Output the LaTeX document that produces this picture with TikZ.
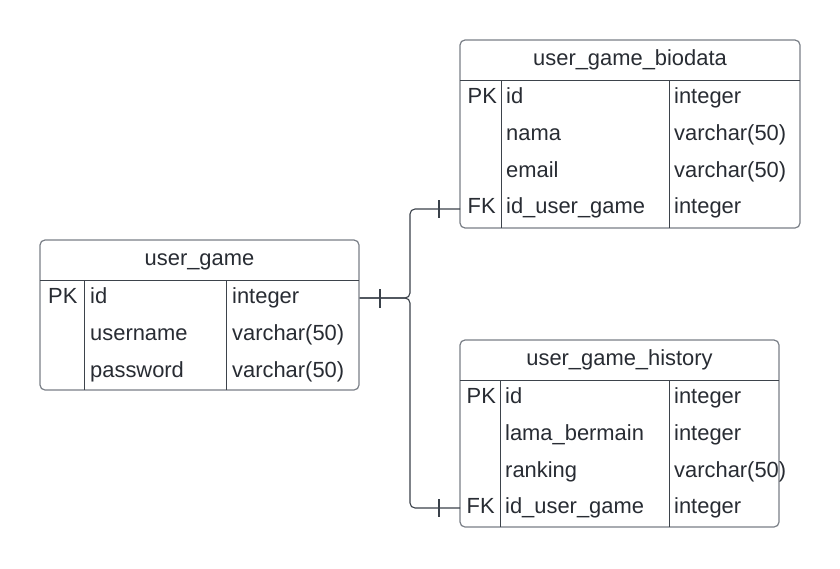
\documentclass[tikz,border=0pt]{standalone}
\usepackage{fontspec}
\setmainfont{Liberation Sans}
\definecolor{txt}{HTML}{282C33}
\definecolor{outer}{HTML}{7A7F87}
\definecolor{inner}{HTML}{3D434B}
\definecolor{conn}{HTML}{3A414A}
\begin{document}
\begin{tikzpicture}[x=1pt,y=-1pt,
  tbl/.style={draw=outer,line width=1.2pt,rounded corners=5pt,fill=white},
  div/.style={draw=inner,line width=1pt},
  cell/.style={anchor=base west,inner sep=0pt,text=txt,font=\fontsize{21.9}{26}\selectfont},
  head/.style={anchor=base,inner sep=0pt,text=txt,font=\fontsize{21.9}{26}\selectfont},
  link/.style={draw=conn,line width=1.1pt,rounded corners=5pt},
  tick/.style={draw=conn,line width=1.1pt}]
\useasboundingbox (0,0) rectangle (840,568);

% ---------- user_game ----------
\path[tbl] (40,240) rectangle (359,390);
\draw[div] (40,280) -- (359,280);
\draw[div] (84.5,280) -- (84.5,390);
\draw[div] (226.5,280) -- (226.5,390);
\node[head] (ugh) at (199.5,265) {user\_game};
\node[cell] (ug1a) at (48,303) {PK};
\node[cell] (ug1b) at (90,303) {id};
\node[cell] (ug1c) at (232,303) {integer};
\node[cell] (ug2b) at (90,340) {username};
\node[cell] (ug2c) at (232,340) {varchar(50)};
\node[cell] (ug3b) at (90,377) {password};
\node[cell] (ug3c) at (232,377) {varchar(50)};

% ---------- user_game_biodata ----------
\path[tbl] (460,40) rectangle (800,228);
\draw[div] (460,80) -- (800,80);
\draw[div] (501,80) -- (501,228);
\draw[div] (669,80) -- (669,228);
\node[head] (bh) at (630,65) {user\_game\_biodata};
\node[cell] (b1a) at (467.5,103) {PK};
\node[cell] (b1b) at (506,103) {id};
\node[cell] (b1c) at (674,103) {integer};
\node[cell] (b2b) at (506,140) {nama};
\node[cell] (b2c) at (674,140) {varchar(50)};
\node[cell] (b3b) at (506,177) {email};
\node[cell] (b3c) at (674,177) {varchar(50)};
\node[cell] (b4a) at (467.5,213.5) {FK};
\node[cell] (b4b) at (506,213.5) {id\_user\_game};
\node[cell] (b4c) at (674,213.5) {integer};

% ---------- user_game_history ----------
\path[tbl] (460,340) rectangle (779,527);
\draw[div] (460,380) -- (779,380);
\draw[div] (500,380) -- (500,527);
\draw[div] (669,380) -- (669,527);
\node[head] (hh) at (619.5,365) {user\_game\_history};
\node[cell] (h1a) at (466.5,403) {PK};
\node[cell] (h1b) at (505,403) {id};
\node[cell] (h1c) at (674,403) {integer};
\node[cell] (h2b) at (505,440) {lama\_bermain};
\node[cell] (h2c) at (674,440) {integer};
\node[cell] (h3b) at (505,477) {ranking};
\node[cell] (h3c) at (674,477) {varchar(50)};
\node[cell] (h4a) at (466.5,513.5) {FK};
\node[cell] (h4b) at (505,513.5) {id\_user\_game};
\node[cell] (h4c) at (674,513.5) {integer};

% ---------- connectors ----------
\coordinate (ugpk) at (359.6,298);
\coordinate (bfk) at (460,209);
\coordinate (hfk) at (460,508);
\draw[link] (ugpk) -- (410,298) |- (bfk);
\draw[link] (ugpk) -- (410,298) |- (hfk);
\draw[tick] (380,289) -- (380,308);
\draw[tick] (439,200) -- (439,218);
\draw[tick] (439,499) -- (439,517);
\end{tikzpicture}
\end{document}
